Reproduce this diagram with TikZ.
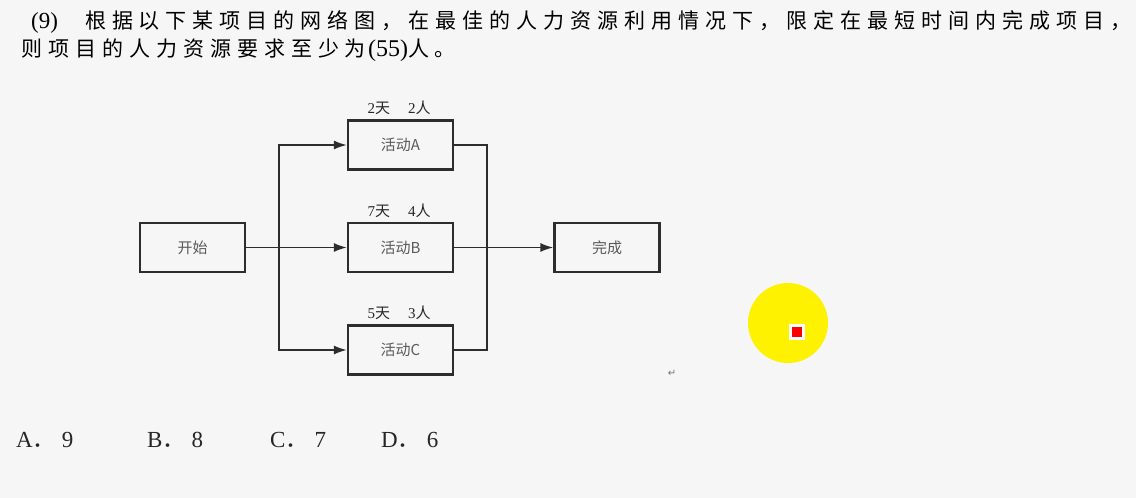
\documentclass[tikz,border=0pt]{standalone}
\usepackage{fontspec}
\setmainfont{Liberation Serif}
\newfontfamily\cjk[LetterSpace=28.5]{Noto Sans CJK SC}
\newfontfamily\cjkb{Noto Sans CJK SC}
\newfontfamily\dejavu{DejaVu Sans}
\usetikzlibrary{arrows.meta}
\definecolor{bg}{RGB}{246,246,246}
\definecolor{boxline}{RGB}{45,45,45}
\definecolor{boxtext}{RGB}{90,90,90}
\tikzset{
  box/.style={draw=boxline, line width=2.2pt, minimum width=105pt, minimum height=49pt, inner sep=0pt, font=\fontsize{15}{15}\selectfont\cjkb, text=boxtext},
  conn/.style={draw=boxline, line width=1.8pt},
  arr/.style={conn, -{Latex[length=13pt,width=9pt]}},
  lab/.style={font=\fontsize{15}{15}\selectfont, text=black!85, inner sep=0pt},
  ttl/.style={anchor=west, inner sep=0pt, font=\fontsize{21}{21}\selectfont, text=black},
  opt/.style={anchor=west, inner sep=0pt, font=\fontsize{23}{23}\selectfont, text=black!85}
}
\begin{document}
\begin{tikzpicture}[x=1pt,y=-1pt]
\fill[bg] (0,0) rectangle (1136,498);
\useasboundingbox (0,0) rectangle (1136,498);
% title
\node[ttl] (t1) at (31,22) {{\fontsize{23}{23}\selectfont(9)}\hspace{27pt}{\cjk 根据以下某项目的网络图，在最佳的人力资源利用情况下，限定在最短时间内完成项目，}};
\node[ttl] (t2) at (21,50) {{\cjk 则项目的人力资源要求至少为}\hspace{2pt}{\fontsize{24}{24}\selectfont(55)}{\cjk 人。}};
% boxes
\node[box] (S) at (192.5,247.5) {开始};
\node[box] (A) at (400.5,145) {活动A};
\node[box] (B) at (400.5,247.5) {活动B};
\node[box] (C) at (400.5,350) {活动C};
\node[box] (D) at (607,247.5) {完成};
% labels
\node[lab] (la) at (399,108) {2{\cjkb 天}\hspace{18pt}2{\cjkb 人}};
\node[lab] (lb) at (399,211) {7{\cjkb 天}\hspace{18pt}4{\cjkb 人}};
\node[lab] (lc) at (399,313) {5{\cjkb 天}\hspace{18pt}3{\cjkb 人}};
% connectors
\coordinate (bl) at (279,247.5);
\coordinate (br) at (487,247.5);
\draw[arr] (S) -- (B);
\draw[arr] (bl) |- (A.west);
\draw[arr] (bl) |- (C.west);
\draw[conn] (A.east) -| (br);
\draw[conn] (C.east) -| (br);
\draw[arr] (B) -- (D);
% options
\node[opt] (oa) at (16,440) {A{\cjkb ．}\hspace{6pt}9};
\node[opt] (ob) at (147,440) {B{\cjkb ．}\hspace{6pt}8};
\node[opt] (oc) at (270,440) {C{\cjkb ．}\hspace{6pt}7};
\node[opt] (od) at (381,440) {D{\cjkb ．}\hspace{6pt}6};
% marks
\node[inner sep=0pt, text=black!55, font=\fontsize{10}{10}\selectfont\dejavu] (ret) at (672,373) {↵};
\fill[yellow] (788,323) circle (40);
\fill[white] (789,324) rectangle (805,340);
\fill[red] (792,327) rectangle (802,337);
\end{tikzpicture}
\end{document}
